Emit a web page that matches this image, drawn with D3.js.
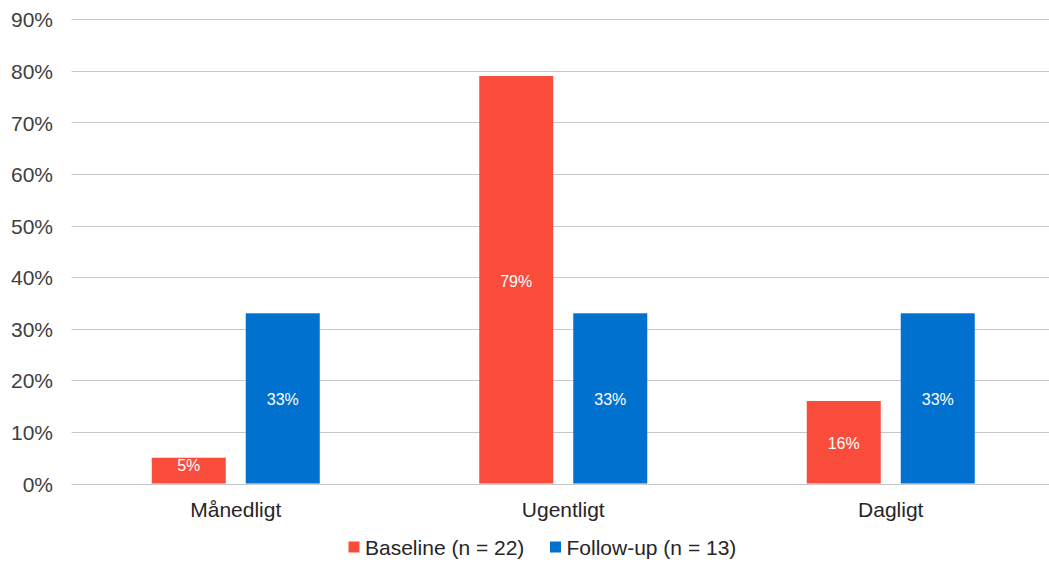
<!DOCTYPE html>
<html><head><meta charset="utf-8">
<script src="https://cdn.jsdelivr.net/npm/d3@7"></script>
<style>
html,body{margin:0;padding:0;background:#fff;}
svg{display:block;font-family:"Liberation Sans",Arial,sans-serif;}
</style></head>
<body>
<svg id="chart" width="1049" height="563"></svg>
<script>
const categories = ["Månedligt", "Ugentligt", "Dagligt"];
const seriesNames = ["Baseline (n = 22)", "Follow-up (n = 13)"];
const baseline = [5, 79, 16];
const followup = [33, 33, 33];
const yTicks = [0, 10, 20, 30, 40, 50, 60, 70, 80, 90];
const colors = ["#F94C3B", "#0071CE"];

const svg = d3.select("#chart");
const x0 = d3.scaleBand().domain(categories).range([72, 1054.5]).paddingInner(0).paddingOuter(0);
const x1 = d3.scaleBand().domain(seriesNames).range([79.75, 247.75]).paddingInner(0.2128);
const y = d3.scaleLinear().domain([0, 90]).range([483.5, 19.3]);

// grid
svg.append("g").selectAll("line").data(yTicks).join("line")
  .attr("x1", 71.5).attr("x2", 1049)
  .attr("y1", d => Math.round(y(d)) + 0.5).attr("y2", d => Math.round(y(d)) + 0.5)
  .attr("stroke", "#c8c8c8").attr("stroke-width", 1.2);

// y axis labels
const yAxis = d3.axisLeft(y).tickValues(yTicks).tickFormat(d => d + "%").tickSize(0).tickPadding(0);
const ya = svg.append("g").attr("transform", "translate(53,0)").call(yAxis);
ya.select(".domain").remove();
ya.selectAll("text").attr("font-size", 21).attr("fill", "#404040")
  .attr("font-family", "Liberation Sans, Arial, sans-serif").attr("dy", "0.36em");

const data = categories.map((c, i) => ({cat: c, vals: [baseline[i], followup[i]]}));
const groups = svg.append("g").selectAll("g").data(data).join("g")
  .attr("transform", d => `translate(${x0(d.cat)},0)`);
groups.selectAll("rect").data(d => d.vals.map((v, j) => ({v, s: seriesNames[j], j}))).join("rect")
  .attr("x", d => x1(d.s)).attr("width", x1.bandwidth())
  .attr("y", d => y(d.v)).attr("height", d => y(0) - y(d.v))
  .attr("fill", d => colors[d.j]);
groups.selectAll("text").data(d => d.vals.map((v, j) => ({v, s: seriesNames[j], j}))).join("text")
  .attr("x", d => x1(d.s) + x1.bandwidth() / 2)
  .attr("y", d => d.v < 8 ? y(d.v) + 7.5 : (y(d.v) + y(0)) / 2 + 1)
  .attr("dy", "0.36em")
  .attr("text-anchor", "middle").attr("font-size", 16).attr("fill", "#ffffff")
  .text(d => d.v + "%");

// x axis labels
const xAxis = d3.axisBottom(x0).tickSize(0).tickPadding(0);
const xa = svg.append("g").attr("transform", "translate(0,502.5)").call(xAxis);
xa.select(".domain").remove();
xa.selectAll("text").attr("font-size", 21).attr("fill", "#262626")
  .attr("font-family", "Liberation Sans, Arial, sans-serif").attr("dy", "0.71em");

// legend
const legendX = [348.5, 550];
const lg = svg.append("g").selectAll("g").data(seriesNames).join("g")
  .attr("transform", (d, i) => `translate(${legendX[i]},541.5)`);
lg.append("rect").attr("width", 11).attr("height", 11).attr("fill", (d, i) => colors[i]);
lg.append("text").attr("x", 16.5).attr("y", 13.5)
  .attr("font-size", 21).attr("fill", "#262626").text(d => d);
</script>
</body></html>
